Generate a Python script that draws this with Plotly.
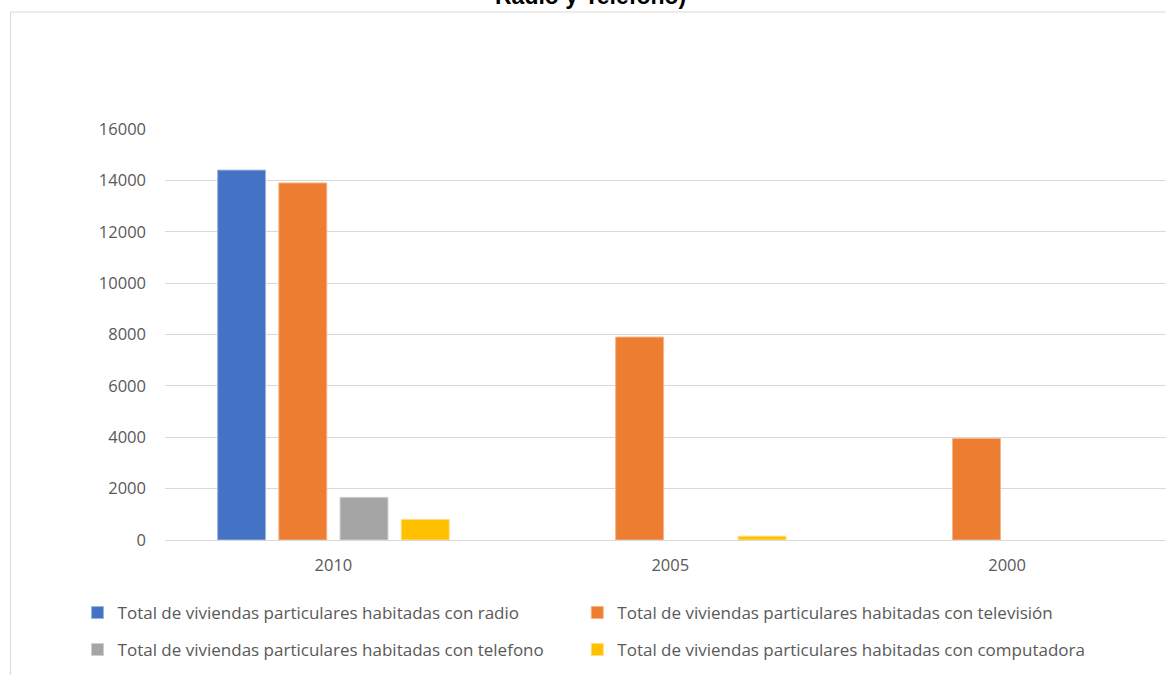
import plotly.graph_objects as go

categories = ["2010", "2005", "2000"]
radio = [14400, None, None]
television = [13900, 7900, 3950]
telefono = [1660, None, None]
computadora = [800, 150, None]

names = [
    "Total de viviendas particulares habitadas con radio",
    "Total de viviendas particulares habitadas con televisión",
    "Total de viviendas particulares habitadas con telefono",
    "Total de viviendas particulares habitadas con computadora",
]
title_text = "Radio y Telefono)"
colors = ["#4472C4", "#ED7D31", "#A5A5A5", "#FFC000"]
line_colors = ["#9fb5e0", "#f5b48a", "#cfcfcf", "#ffdd80"]
series = [radio, television, telefono, computadora]
legend_ids = ["legend", "legend2", "legend3", "legend4"]

W, H = 1166, 675
plot_left, plot_right, plot_top, plot_bottom = 164.5, 1166, 129, 540
pw = plot_right - plot_left
ph = plot_bottom - plot_top

fig = go.Figure()
for name, vals, c, lc, lg in zip(names, series, colors, line_colors, legend_ids):
    fig.add_trace(go.Bar(
        x=categories, y=vals, name=name,
        marker=dict(color=c, line=dict(color=lc, width=1)),
        legend=lg,
    ))

font_family = "Open Sans"
tick_font = dict(family=font_family, size=16.5, color="#595959")
leg_font = dict(family=font_family, size=17, color="#595959")

# legend entry positions (text start px, row centre px)
leg_pos = {"legend": (117, 613), "legend2": (617, 613), "legend3": (117, 650), "legend4": (617, 650)}
legends = {}
for lid, (tx, cy) in leg_pos.items():
    legends[lid] = dict(
        orientation="h", xref="paper", yref="paper",
        x=(tx - 40 - plot_left) / pw, xanchor="left",
        y=(plot_bottom - cy) / ph, yanchor="middle",
        font=leg_font, bgcolor="rgba(0,0,0,0)",
        itemclick=False, itemdoubleclick=False,
    )

fig.update_layout(
    width=W, height=H,
    paper_bgcolor="white", plot_bgcolor="white",
    margin=dict(l=plot_left, r=W - plot_right, t=plot_top, b=H - plot_bottom, pad=0),
    barmode="group", bargap=0.273, bargroupgap=0.217,
    xaxis=dict(
        range=[-0.5, pw / 337 - 0.5],
        showgrid=False, showline=True, linecolor="#d9d9d9", linewidth=1,
        ticks="", tickfont=tick_font, ticklabelstandoff=10,
        fixedrange=True,
    ),
    yaxis=dict(
        range=[0, 16000], tickvals=[0, 2000, 4000, 6000, 8000, 10000, 12000, 14000, 16000],
        tickformat="d",
        showgrid=True, gridcolor="#d9d9d9", gridwidth=1,
        zeroline=False, showline=False, ticks="",
        tickfont=tick_font, ticklabelstandoff=18, fixedrange=True,
    ),
    showlegend=True,
    annotations=[dict(
        text="<b>" + title_text + "</b>", showarrow=False,
        xref="paper", yref="paper",
        x=(590 - plot_left) / pw, xanchor="center",
        y=(plot_bottom + 4) / ph, yanchor="middle",
        font=dict(family="Liberation Sans", size=23, color="#000000"),
    )],
    shapes=[dict(
        type="rect", xref="paper", yref="paper",
        x0=(10 - plot_left) / pw, x1=1.05,
        y0=(plot_bottom - 700) / ph,
        y1=(plot_bottom - 12) / ph,
        line=dict(color="#d9d9d9", width=1), fillcolor="rgba(0,0,0,0)", layer="below",
    )],
    **legends,
)

fig.write_html(
    "out.html",
    config=dict(displayModeBar=False),
    post_script="document.body.style.margin='0';document.body.style.overflow='hidden';",
)
